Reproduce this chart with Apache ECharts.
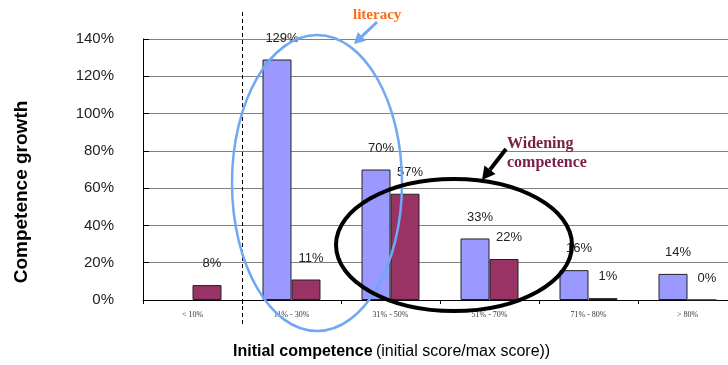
<!DOCTYPE html>
<html>
<head>
<meta charset="utf-8">
<script src="https://cdn.jsdelivr.net/npm/echarts@6/dist/echarts.min.js"></script>
<style>
    html, body { margin: 0; padding: 0; background: #fff; }
    #area { width: 728px; height: 365px; }
</style>
</head>
<body>
<div id="area"></div>
<script>
// categories = initial competence bands
var bands = ['< 10%', '11% - 30%', '31% - 50%', '51% - 70%', '71% - 80%', '> 80%'];
// competence growth (percent)
var blueGrowth = [null, 129, 70, 33, 16, 14];
var redGrowth = [8, 11, 57, 22, 1, 0];
var yTicks = [0, 20, 40, 60, 80, 100, 120, 140];

var sans = '"Liberation Sans", Arial, sans-serif';
var serif = '"Liberation Serif", "Times New Roman", serif';

// small arrow for the annotations
function arrow(x1, y1, x2, y2, color, width, headLen, headHalf) {
    var dx = x2 - x1, dy = y2 - y1;
    var len = Math.sqrt(dx * dx + dy * dy);
    var ux = dx / len, uy = dy / len;
    var bx = x2 - ux * headLen, by = y2 - uy * headLen;
    return [
        { type: 'line', z: 100, shape: { x1: x1, y1: y1, x2: bx, y2: by }, style: { stroke: color, lineWidth: width } },
        { type: 'polygon', z: 100, shape: { points: [[x2, y2], [bx - uy * headHalf, by + ux * headHalf], [bx + uy * headHalf, by - ux * headHalf]] }, style: { fill: color } }
    ];
}

var showChart = echarts.init(document.getElementById('area'));

var labelStyle = {
    show: true,
    position: 'top',
    distance: 15,
    offset: [5, 0],
    color: '#222',
    fontFamily: sans,
    fontSize: 13,
    formatter: function (p) { return p.value + '%'; }
};

var graphics = [
    // dashed divider
    { type: 'line', z: 100, shape: { x1: 242.5, y1: 12, x2: 242.5, y2: 325 }, style: { stroke: '#000', lineWidth: 1, lineDash: [4, 3] } },
    // literacy ellipse
    { type: 'ellipse', z: 100, shape: { cx: 317, cy: 183, rx: 85, ry: 148 }, style: { fill: null, stroke: '#70A8F2', lineWidth: 2.5 } },
    // widening competence ellipse
    { type: 'ellipse', z: 100, shape: { cx: 454, cy: 245, rx: 118, ry: 66 }, style: { fill: null, stroke: '#000', lineWidth: 4 } },
    { type: 'text', z: 100, x: 353, y: 15, style: { text: 'literacy', fill: '#FF6A1A', font: 'bold 15px ' + serif, textVerticalAlign: 'middle' } },
    { type: 'text', z: 100, x: 507, y: 153, style: { text: 'Widening\ncompetence', fill: '#7B2048', font: 'bold 16px ' + serif, lineHeight: 19, textVerticalAlign: 'middle' } },
    { type: 'text', z: 100, x: 22, y: 192, rotation: Math.PI / 2, style: { text: 'Competence growth', fill: '#000', font: 'bold 19px ' + sans, textAlign: 'center', textVerticalAlign: 'middle' } },
    {
        type: 'text', z: 100, x: 233, y: 352,
        style: {
            text: '{b|Initial competence} {n|(initial score/max score))}',
            textVerticalAlign: 'middle',
            rich: {
                b: { fontFamily: sans, fontWeight: 'bold', fontSize: 16, fill: '#000' },
                n: { fontFamily: sans, fontSize: 16, fill: '#000' }
            }
        }
    }
].concat(arrow(377, 22, 354, 44, '#70A8F2', 3, 11, 6))
 .concat(arrow(506, 149, 482, 180, '#000', 4, 13, 7));

var showOption = {
    animation: false,
    grid: { left: 143, top: 39, width: 594, height: 261, outerBoundsMode: 'none' },
    xAxis: {
        type: 'category',
        data: bands,
        axisLine: { lineStyle: { color: '#000', width: 1 } },
        axisTick: { show: true, length: 4, lineStyle: { color: '#000' } },
        axisLabel: { color: '#333', fontFamily: serif, fontSize: 8, margin: 11 }
    },
    yAxis: {
        type: 'value',
        min: yTicks[0],
        max: yTicks[yTicks.length - 1],
        interval: 20,
        axisLine: { show: true, lineStyle: { color: '#000', width: 1 } },
        axisTick: { show: true, inside: true, length: 6, lineStyle: { color: '#000' } },
        axisLabel: { color: '#222', fontFamily: sans, fontSize: 15, margin: 29, formatter: '{value}%' },
        splitLine: { show: true, lineStyle: { color: '#808080', width: 1 } }
    },
    series: [
        {
            type: 'bar',
            data: blueGrowth,
            barWidth: 29,
            barGap: '0%',
            itemStyle: { color: '#9999FF', borderColor: '#222', borderWidth: 1 },
            label: labelStyle
        },
        {
            type: 'bar',
            data: redGrowth,
            barWidth: 29,
            barGap: '0%',
            itemStyle: { color: '#993366', borderColor: '#222', borderWidth: 1 },
            label: labelStyle
        }
    ],
    graphic: graphics
};
showChart.setOption(showOption);
</script>
</body>
</html>
